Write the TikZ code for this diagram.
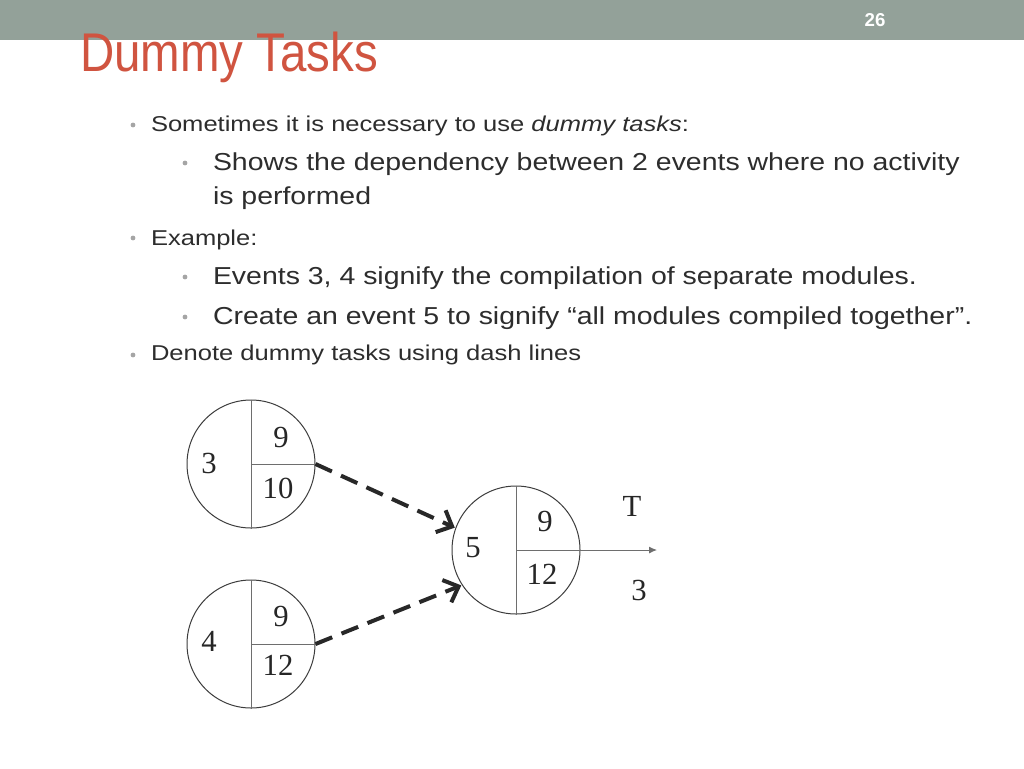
\documentclass[tikz,border=0pt]{standalone}
\usepackage{fontspec}
\usetikzlibrary{arrows.meta}
\setmainfont{Liberation Serif}
\newfontfamily\bodyfont[FakeStretch=1.19]{Liberation Sans}
\newfontfamily\subfont[FakeStretch=1.16]{Liberation Sans}
\newfontfamily\titlefont[FakeStretch=0.87]{Liberation Sans}
\newfontfamily\pagefont{Liberation Sans}
\newfontfamily\numfont{Liberation Serif}
\newlength{\du}
\setlength{\du}{0.75pt}
\definecolor{headcolor}{RGB}{147,161,153}
\definecolor{titlecolor}{RGB}{208,84,64}
\definecolor{bodytext}{RGB}{45,45,45}
\definecolor{bulletcolor}{RGB}{165,165,165}
\definecolor{linegray}{RGB}{60,60,60}
\definecolor{dividergray}{RGB}{110,110,110}
\definecolor{arrowdark}{RGB}{40,40,40}
\tikzset{
  lvlone/.style={anchor=base west,inner sep=0pt,outer sep=0pt,text=bodytext,font=\bodyfont\fontsize{16.1}{19}\selectfont},
  lvltwo/.style={anchor=base west,inner sep=0pt,outer sep=0pt,text=bodytext,font=\subfont\fontsize{18.4}{22}\selectfont},
  evcircle/.style={circle,draw=linegray,line width=0.75pt,minimum size=96pt,inner sep=0pt},
  divline/.style={draw=dividergray,line width=0.75pt},
  numlabel/.style={inner sep=0pt,outer sep=0pt,text=black!85,font=\numfont\fontsize{23}{23}\selectfont},
  dummyarrow/.style={draw=arrowdark,line width=3pt,dash pattern=on 13.5pt off 7.5pt,shorten >=0.5pt,-{Straight Barb[length=9.5pt,width=18pt]}},
  timearrow/.style={draw=dividergray,line width=0.75pt,-{Latex[length=6pt,width=5.25pt]}}
}
\begin{document}
\begin{tikzpicture}[even odd rule]
\pgftransformxscale{1.000000}
\pgftransformyscale{-1.000000}
% page and header bar
\fill[white] (0\du,0\du) rectangle (1024\du,768\du);
\useasboundingbox (0\du,0\du) rectangle (1024\du,768\du);
\fill[headcolor] (0\du,0\du) rectangle (1024\du,40\du);
\node[inner sep=0pt,outer sep=0pt,text=white,font=\pagefont\bfseries\fontsize{14}{14}\selectfont] (pagenum) at (875\du,20\du){26};
\node[anchor=base west,inner sep=0pt,outer sep=0pt,text=titlecolor,font=\titlefont\fontsize{40.9}{44}\selectfont] (title) at (80\du,71\du){Dummy Tasks};
% bullets
\fill[bulletcolor] (133\du,125\du) circle (2.4\du);
\fill[bulletcolor] (185\du,163\du) circle (2.4\du);
\fill[bulletcolor] (133\du,238\du) circle (2.4\du);
\fill[bulletcolor] (185\du,277\du) circle (2.4\du);
\fill[bulletcolor] (185\du,317\du) circle (2.4\du);
\fill[bulletcolor] (133\du,355\du) circle (2.4\du);
% bullet text
\node[lvlone] (sometimes) at (151\du,131\du){Sometimes it is necessary to use \textit{dummy tasks}:};
\node[lvltwo] (shows) at (213\du,170\du){Shows the dependency between 2 events where no activity};
\node[lvltwo] (performed) at (213\du,204\du){is performed};
\node[lvlone] (example) at (151\du,245\du){Example:};
\node[lvltwo] (events) at (213\du,284\du){Events 3, 4 signify the compilation of separate modules.};
\node[lvltwo] (create) at (213\du,324\du){Create an event 5 to signify “all modules compiled together”.};
\node[lvlone] (denote) at (151\du,360\du){Denote dummy tasks using dash lines};
% event 3
\node[evcircle] (ev3) at (251\du,464\du){};
\draw[divline] (ev3.north) -- (ev3.south);
\draw[divline] (ev3.center) -- (ev3.east);
\node[numlabel] (ev3id) at (209\du,463\du){3};
\node[numlabel] (ev3top) at (281\du,437\du){9};
\node[numlabel] (ev3bot) at (278\du,488\du){10};
% event 4
\node[evcircle] (ev4) at (251\du,644\du){};
\draw[divline] (ev4.north) -- (ev4.south);
\draw[divline] (ev4.center) -- (ev4.east);
\node[numlabel] (ev4id) at (209\du,641\du){4};
\node[numlabel] (ev4top) at (281\du,616\du){9};
\node[numlabel] (ev4bot) at (278\du,665\du){12};
% event 5
\node[evcircle] (ev5) at (516\du,550\du){};
\draw[divline] (ev5.north) -- (ev5.south);
\draw[divline] (ev5.center) -- (ev5.east);
\node[numlabel] (ev5id) at (473\du,548\du){5};
\node[numlabel] (ev5top) at (545\du,521\du){9};
\node[numlabel] (ev5bot) at (542\du,574\du){12};
% dummy tasks
\draw[dummyarrow] (ev3.east) -- (ev5.160);
\draw[dummyarrow] (ev4.east) -- (ev5.213);
% outgoing task
\coordinate (tend) at (657\du,550\du);
\draw[timearrow] (ev5.east) -- (tend);
\node[numlabel] (tname) at (632\du,506\du){T};
\node[numlabel] (tdur) at (639\du,590\du){3};
\end{tikzpicture}
\end{document}
